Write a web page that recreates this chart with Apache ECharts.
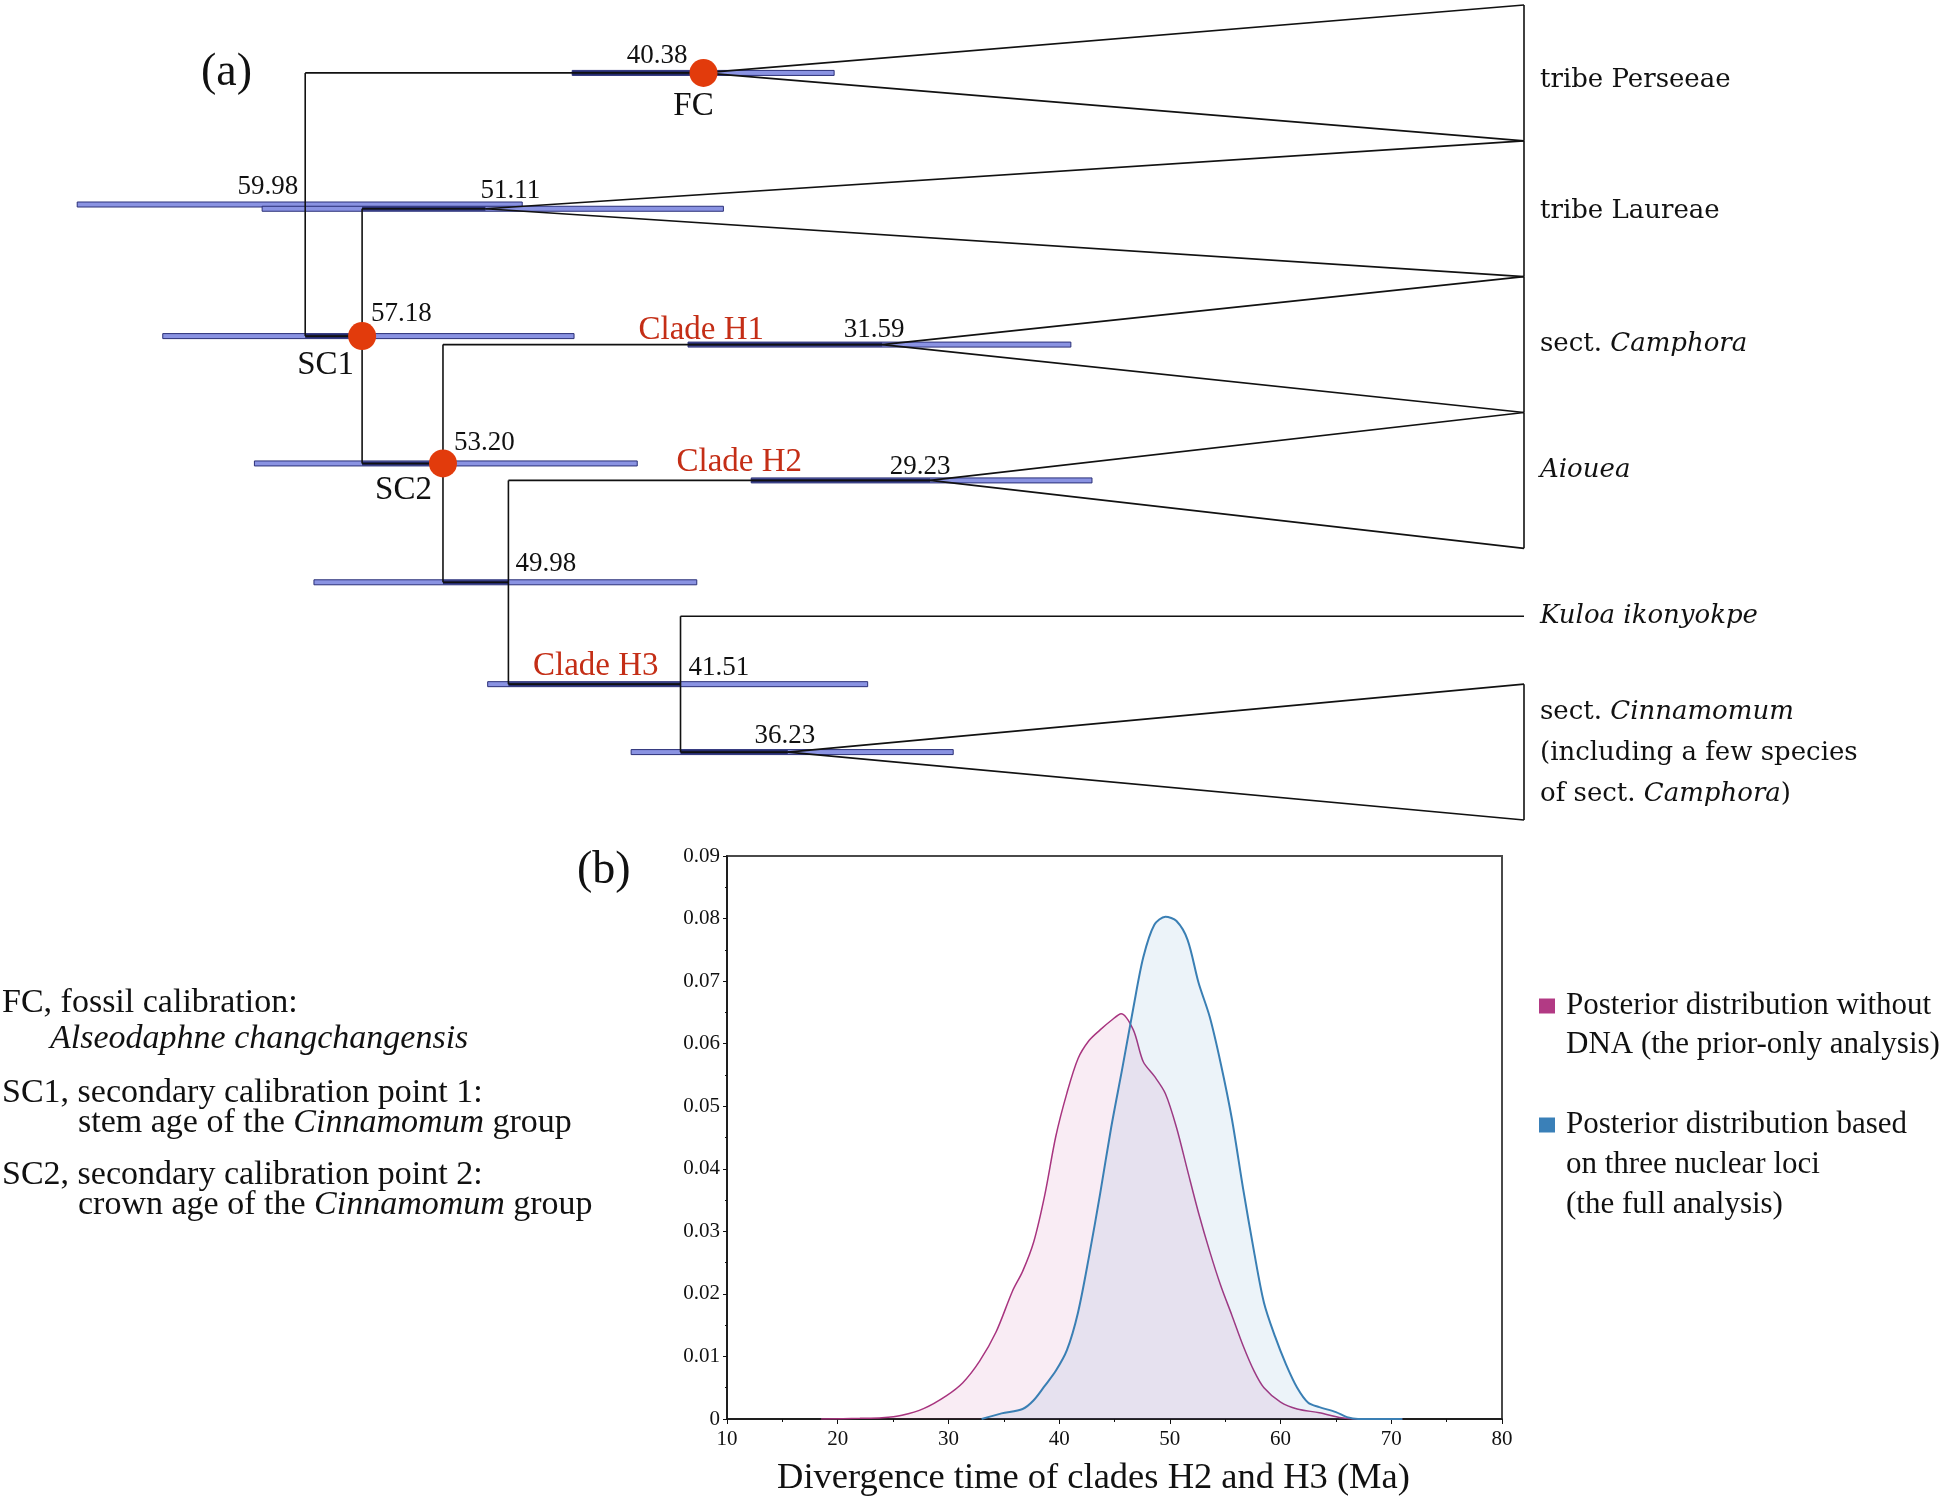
<!DOCTYPE html>
<html><head><meta charset="utf-8">
<script src="https://cdn.jsdelivr.net/npm/echarts@6/dist/echarts.min.js"></script>
<style>html,body{margin:0;padding:0;background:#fff}#c{width:1944px;height:1498px}</style>
</head><body><div id="c"></div>
<script>
// ===== Panel (a): dated tree (ages in Ma) =====
const nodeIds     = ['root','sc1','fc','laur','sc2','h1','n4998','h2','h3','cinn'];
const nodeParents = [null,'root','root','sc1','sc1','sc2','sc2','n4998','n4998','h3'];
const nodeAges    = [59.98,57.18,40.38,51.11,53.20,31.59,49.98,29.23,41.51,36.23];
const hpdLower    = [49.3,46.75,33.95,39.4,43.64,22.3,40.71,21.26,32.3,28.09];
const hpdUpper    = [71.2,66.99,46.84,62.1,62.48,41.14,59.55,38.03,51.0,43.94];

const tipLabels    = ['tribe Perseeae','tribe Laureae','sect. {i|Camphora}','{i|Aiouea}','{i|Kuloa ikonyokpe}',
                      'sect. {i|Cinnamomum}\n(including a few species\nof sect. {i|Camphora})'];
const tipParents   = ['fc','laur','h1','h2','h3','cinn'];
const tipCollapsed = [true,true,true,true,false,true];
const tipAge = 0;

const calibNodes  = ['fc','sc1','sc2'];
const calibLabels = ['FC','SC1','SC2'];
const cladeNodes  = ['h1','h2','h3'];
const cladeLabels = ['Clade H1','Clade H2','Clade H3'];

const calibNotes = [
  ['FC, fossil calibration:', '{i|Alseodaphne changchangensis}'],
  ['SC1, secondary calibration point 1:', 'stem age of the {i|Cinnamomum} group'],
  ['SC2, secondary calibration point 2:', 'crown age of the {i|Cinnamomum} group']
];

// ===== Panel (b): posterior densities =====
const priorX = [18.5,22,24,25.8,27.8,29.8,31.3,32.8,34.3,35.8,36.7,37.7,38.7,39.7,40.7,41.7,42.7,43.7,44.7,45.6,46.7,47.6,48.6,49.6,50.6,51.6,52.6,53.6,54.6,55.6,56.6,57.6,58.5,60,61.5,63.5,65.5,67,71];
const priorY = [0,0.0001,0.0002,0.0006,0.0017,0.0037,0.0058,0.0092,0.0139,0.0205,0.0236,0.0283,0.0358,0.0452,0.0521,0.0576,0.0605,0.0622,0.0637,0.0648,0.0622,0.0571,0.0548,0.052,0.0466,0.0397,0.0329,0.0268,0.0213,0.0166,0.0118,0.0077,0.005,0.0027,0.0016,0.001,0.0002,0,0];
const fullX  = [33,34.8,36.7,37.7,38.7,39.7,40.7,41.7,42.7,43.7,44.7,45.7,46.7,47.6,48.6,49.6,50.6,51.6,52.6,53.6,54.6,55.6,56.6,57.6,58.5,59.5,60.5,61.5,62.5,63.5,65,66,67,71];
const fullY  = [0,0.0009,0.0016,0.003,0.0053,0.0077,0.011,0.017,0.026,0.036,0.0466,0.056,0.0657,0.0738,0.079,0.0803,0.0796,0.0766,0.0697,0.0643,0.0568,0.048,0.037,0.0268,0.0186,0.0132,0.0087,0.005,0.0026,0.0019,0.0011,0.0003,0,0];
const legendNames = [
  ['Posterior distribution without','DNA (the prior-only analysis)'],
  ['Posterior distribution based','on three nuclear loci','(the full analysis)']
];
const xTickMin = 10, xTickMax = 80, xTickStep = 10;
const yTickMin = 0, yTickMax = 0.09, yTickStep = 0.01;

// ===== styles =====
const SERIF = "Liberation Serif";
const TIPFONT = "DejaVu Serif";
const RED = '#c42e16', DOT = '#e23b0c';
const PINK_LINE = '#a8347f', BLUE_LINE = '#3a7fb4';
const PINK_FILL = 'rgba(190,60,140,0.14)', BLUE_FILL = 'rgba(40,120,190,0.13)';
const ageLabelOffset = {root:[-7,-18,'right'], laur:[-5,-18,'left'], fc:[-16,-17,'right'], sc1:[9,-22,'left'],
  sc2:[11,-21,'left'], n4998:[7,-18,'left'], h3:[8,-16,'left'], cinn:[-3,-16,'center'], h1:[-8,-15,'center'], h2:[-10,-14,'center']};
const calibOffset = {fc:[-10,33,'center'], sc1:[-8,29,'right'], sc2:[-11,27,'right']};
const cladeOffset = {h1:[-118,-14,'right'], h2:[-128,-18,'right'], h3:[-22,-18,'right']};
const tipDy = [7,2,0,-10,0,1];

// ===== tree layout (derived) =====
const idx = id => nodeIds.indexOf(id);
const collapsedY = {};
tipParents.forEach((p,i)=>{ if (tipCollapsed[i]) collapsedY[p] = i; });
function childYs(id){
  const ys = [];
  nodeIds.forEach((n,k)=>{ if (nodeParents[k]===id) ys.push(nodeY(n)); });
  tipParents.forEach((p,i)=>{ if (p===id && !tipCollapsed[i]) ys.push(i); });
  return ys;
}
function nodeY(id){
  if (collapsedY[id] !== undefined) return collapsedY[id];
  const ys = childYs(id);
  return (Math.min(...ys)+Math.max(...ys))/2;
}
const Y = {}; nodeIds.forEach(n=>Y[n]=nodeY(n));

// segments: [x1,y1,x2,y2,kind]  kind 0 = branch, 1 = branch over HPD bar
const segs = [], darkSegs = [];
nodeIds.forEach((n,k)=>{
  const p = nodeParents[k];
  if (p) {
    const pa = nodeAges[idx(p)];
    segs.push([pa, Y[n], nodeAges[k], Y[n], 0]);
    darkSegs.push([Math.min(pa, hpdUpper[k]), Y[n], nodeAges[k], Y[n], 1]);
  }
  if (collapsedY[n] === undefined) {
    const ys = childYs(n);
    segs.push([nodeAges[k], Math.min(...ys), nodeAges[k], Math.max(...ys), 0]);
  }
});
tipParents.forEach((p,i)=>{
  const a = nodeAges[idx(p)];
  if (tipCollapsed[i]) {
    segs.push([a, i, tipAge, i-0.5, 0]);
    segs.push([a, i, tipAge, i+0.5, 0]);
    segs.push([tipAge, i-0.5, tipAge, i+0.5, 0]);
  } else {
    segs.push([a, i, tipAge, i, 0]);
  }
});

function segRender(params, api){
  const p1 = api.coord([api.value(0), api.value(1)]);
  const p2 = api.coord([api.value(2), api.value(3)]);
  const dark = api.value(4) === 1;
  return {type:'line', shape:{x1:p1[0],y1:p1[1],x2:p2[0],y2:p2[1]},
    style:{stroke: dark ? '#262c6e' : '#111', lineWidth: dark ? 4 : 1.6}};
}
function barRender(params, api){
  const a = api.coord([api.value(1), api.value(2)]);
  const b = api.coord([api.value(0), api.value(2)]);
  return {type:'rect', shape:{x:a[0], y:a[1]-2.5, width:b[0]-a[0], height:5},
    style:{fill:'#8a93e2', stroke:'#2b3078', lineWidth:1}};
}
function textRenderFactory(getter){
  return function(params, api){
    const p = api.coord([api.value(0), api.value(1)]);
    const o = getter(api.value(2));
    return {type:'text', x:p[0]+o.dx, y:p[1]+o.dy, style:Object.assign({
      text:o.text, fill:o.fill||'#111', fontFamily:o.family, fontSize:o.size,
      align:o.align, verticalAlign:'middle', textAlign:o.align, textVerticalAlign:'middle'}, o.extra||{})};
  };
}

const ageLabelData = nodeIds.map((n,k)=>[nodeAges[k], Y[n], k]);
const calibData = calibNodes.map((n,k)=>[nodeAges[idx(n)], Y[n], k]);
const cladeData = cladeNodes.map((n,k)=>[nodeAges[idx(n)], Y[n], k]);
const tipData = tipLabels.map((t,i)=>[tipAge, i, i]);

const graphics = [];
graphics.push({type:'text', left:201, top:50, style:{text:'(a)', fontFamily:SERIF, fontSize:46, fill:'#111'}});
graphics.push({type:'text', left:577, top:848, style:{text:'(b)', fontFamily:SERIF, fontSize:46, fill:'#111'}});
// calibration notes
const noteTop = [1003, 1093, 1175], noteIndent = [50, 78, 78], noteGap = [36, 30, 30];
calibNotes.forEach((lines,k)=>{
  lines.forEach((t,j)=>{
    graphics.push({type:'text', x: j===0 ? 2 : noteIndent[k], y: noteTop[k] + j*noteGap[k],
      style:{text:t, fontFamily:SERIF, fontSize:34, fill:'#111', verticalAlign:'middle', textVerticalAlign:'middle',
        rich:{i:{fontStyle:'italic', fontSize:34, fontFamily:SERIF}}}});
  });
});
// legend for (b)
const legColors = ['#b23a84','#3a80b8'];
const legTop = [1006, 1125], legGap = 40;
legendNames.forEach((lines,k)=>{
  graphics.push({type:'rect', shape:{x:1539, y:legTop[k]-7.5, width:16, height:15}, style:{fill:legColors[k]}});
  lines.forEach((t,j)=>{
    graphics.push({type:'text', x:1566, y:legTop[k]+j*(k===0?39:legGap),
      style:{text:t, fontFamily:SERIF, fontSize:31, fill:'#111', verticalAlign:'middle', textVerticalAlign:'middle'}});
  });
});

const option = {
  backgroundColor:'#fff',
  animation:false,
  grid:[
    {left:0, right:420, top:5, bottom:678, show:false},
    {left:727, right:442, top:856, bottom:79, show:true, borderColor:'#4a4a4a', borderWidth:2, backgroundColor:'transparent'}
  ],
  xAxis:[
    {gridIndex:0, type:'value', min:0, max:75, inverse:true, show:false},
    {gridIndex:1, type:'value', min:xTickMin, max:xTickMax, interval:xTickStep,
      name:'Divergence time of clades H2 and H3 (Ma)', nameLocation:'middle', nameGap:41,
      nameTextStyle:{fontFamily:SERIF, fontSize:36.5, color:'#111', padding:[0,42,0,0]},
      axisLine:{lineStyle:{color:'#111', width:1.5}},
      axisTick:{length:5, lineStyle:{color:'#111'}},
      minorTick:{show:true, splitNumber:2, length:3, lineStyle:{color:'#111'}},
      splitLine:{show:false},
      axisLabel:{fontFamily:SERIF, fontSize:21, color:'#111', margin:10}}
  ],
  yAxis:[
    {gridIndex:0, type:'value', min:-0.5, max:5.5, inverse:true, show:false},
    {gridIndex:1, type:'value', min:yTickMin, max:yTickMax, interval:yTickStep,
      axisLine:{show:true, lineStyle:{color:'#111', width:1.5}},
      axisTick:{show:true, length:4, lineStyle:{color:'#111'}},
      minorTick:{show:true, splitNumber:2, length:2, lineStyle:{color:'#111'}},
      splitLine:{show:false},
      axisLabel:{fontFamily:SERIF, fontSize:21, color:'#111', margin:7,
        formatter: v => (Math.round(v*100)/100).toString()}}
  ],
  series:[
    {type:'custom', xAxisIndex:0, yAxisIndex:0, renderItem:barRender, data:nodeIds.map((n,k)=>[hpdLower[k], hpdUpper[k], Y[n]]), encode:{x:[0,1], y:2}, z:2, silent:true},
    {type:'custom', xAxisIndex:0, yAxisIndex:0, renderItem:segRender, data:darkSegs, encode:{x:[0,2], y:[1,3]}, z:3, silent:true},
    {type:'custom', xAxisIndex:0, yAxisIndex:0, renderItem:segRender, data:segs, encode:{x:[0,2], y:[1,3]}, z:4, silent:true},
    {type:'scatter', xAxisIndex:0, yAxisIndex:0, symbolSize:28, itemStyle:{color:DOT, opacity:1}, z:5, silent:true,
      data: calibNodes.map(n=>[nodeAges[idx(n)], Y[n]])},
    {type:'custom', xAxisIndex:0, yAxisIndex:0, z:6, silent:true, data:ageLabelData, encode:{x:0, y:1},
      renderItem:textRenderFactory(k=>{ const o = ageLabelOffset[nodeIds[k]];
        return {text:nodeAges[k].toFixed(2), dx:o[0], dy:o[1], align:o[2], family:SERIF, size:27}; })},
    {type:'custom', xAxisIndex:0, yAxisIndex:0, z:6, silent:true, data:calibData, encode:{x:0, y:1},
      renderItem:textRenderFactory(k=>{ const o = calibOffset[calibNodes[k]];
        return {text:calibLabels[k], dx:o[0], dy:o[1], align:o[2], family:SERIF, size:33}; })},
    {type:'custom', xAxisIndex:0, yAxisIndex:0, z:6, silent:true, data:cladeData, encode:{x:0, y:1},
      renderItem:textRenderFactory(k=>{ const o = cladeOffset[cladeNodes[k]];
        return {text:cladeLabels[k], dx:o[0], dy:o[1], align:o[2], family:SERIF, size:33, fill:RED}; })},
    {type:'custom', xAxisIndex:0, yAxisIndex:0, z:6, silent:true, data:tipData, encode:{x:0, y:1},
      renderItem:textRenderFactory(k=>({text:tipLabels[k], dx:16, dy:tipDy[k], align:'left', family:TIPFONT, size:26,
        extra:{lineHeight:41, rich:{i:{fontStyle:'italic', fontSize:26, fontFamily:TIPFONT, lineHeight:41}}}}))},
    {type:'line', xAxisIndex:1, yAxisIndex:1, data:priorX.map((x,i)=>[x, priorY[i]]), smooth:0.3, symbol:'none',
      lineStyle:{color:PINK_LINE, width:1.5}, areaStyle:{color:PINK_FILL}, z:2, silent:true},
    {type:'line', xAxisIndex:1, yAxisIndex:1, data:fullX.map((x,i)=>[x, fullY[i]]), smooth:0.3, symbol:'none',
      lineStyle:{color:BLUE_LINE, width:2}, areaStyle:{color:BLUE_FILL}, z:3, silent:true}
  ],
  graphic: graphics
};
const chart = echarts.init(document.getElementById('c'));
chart.setOption(option);
</script></body></html>
